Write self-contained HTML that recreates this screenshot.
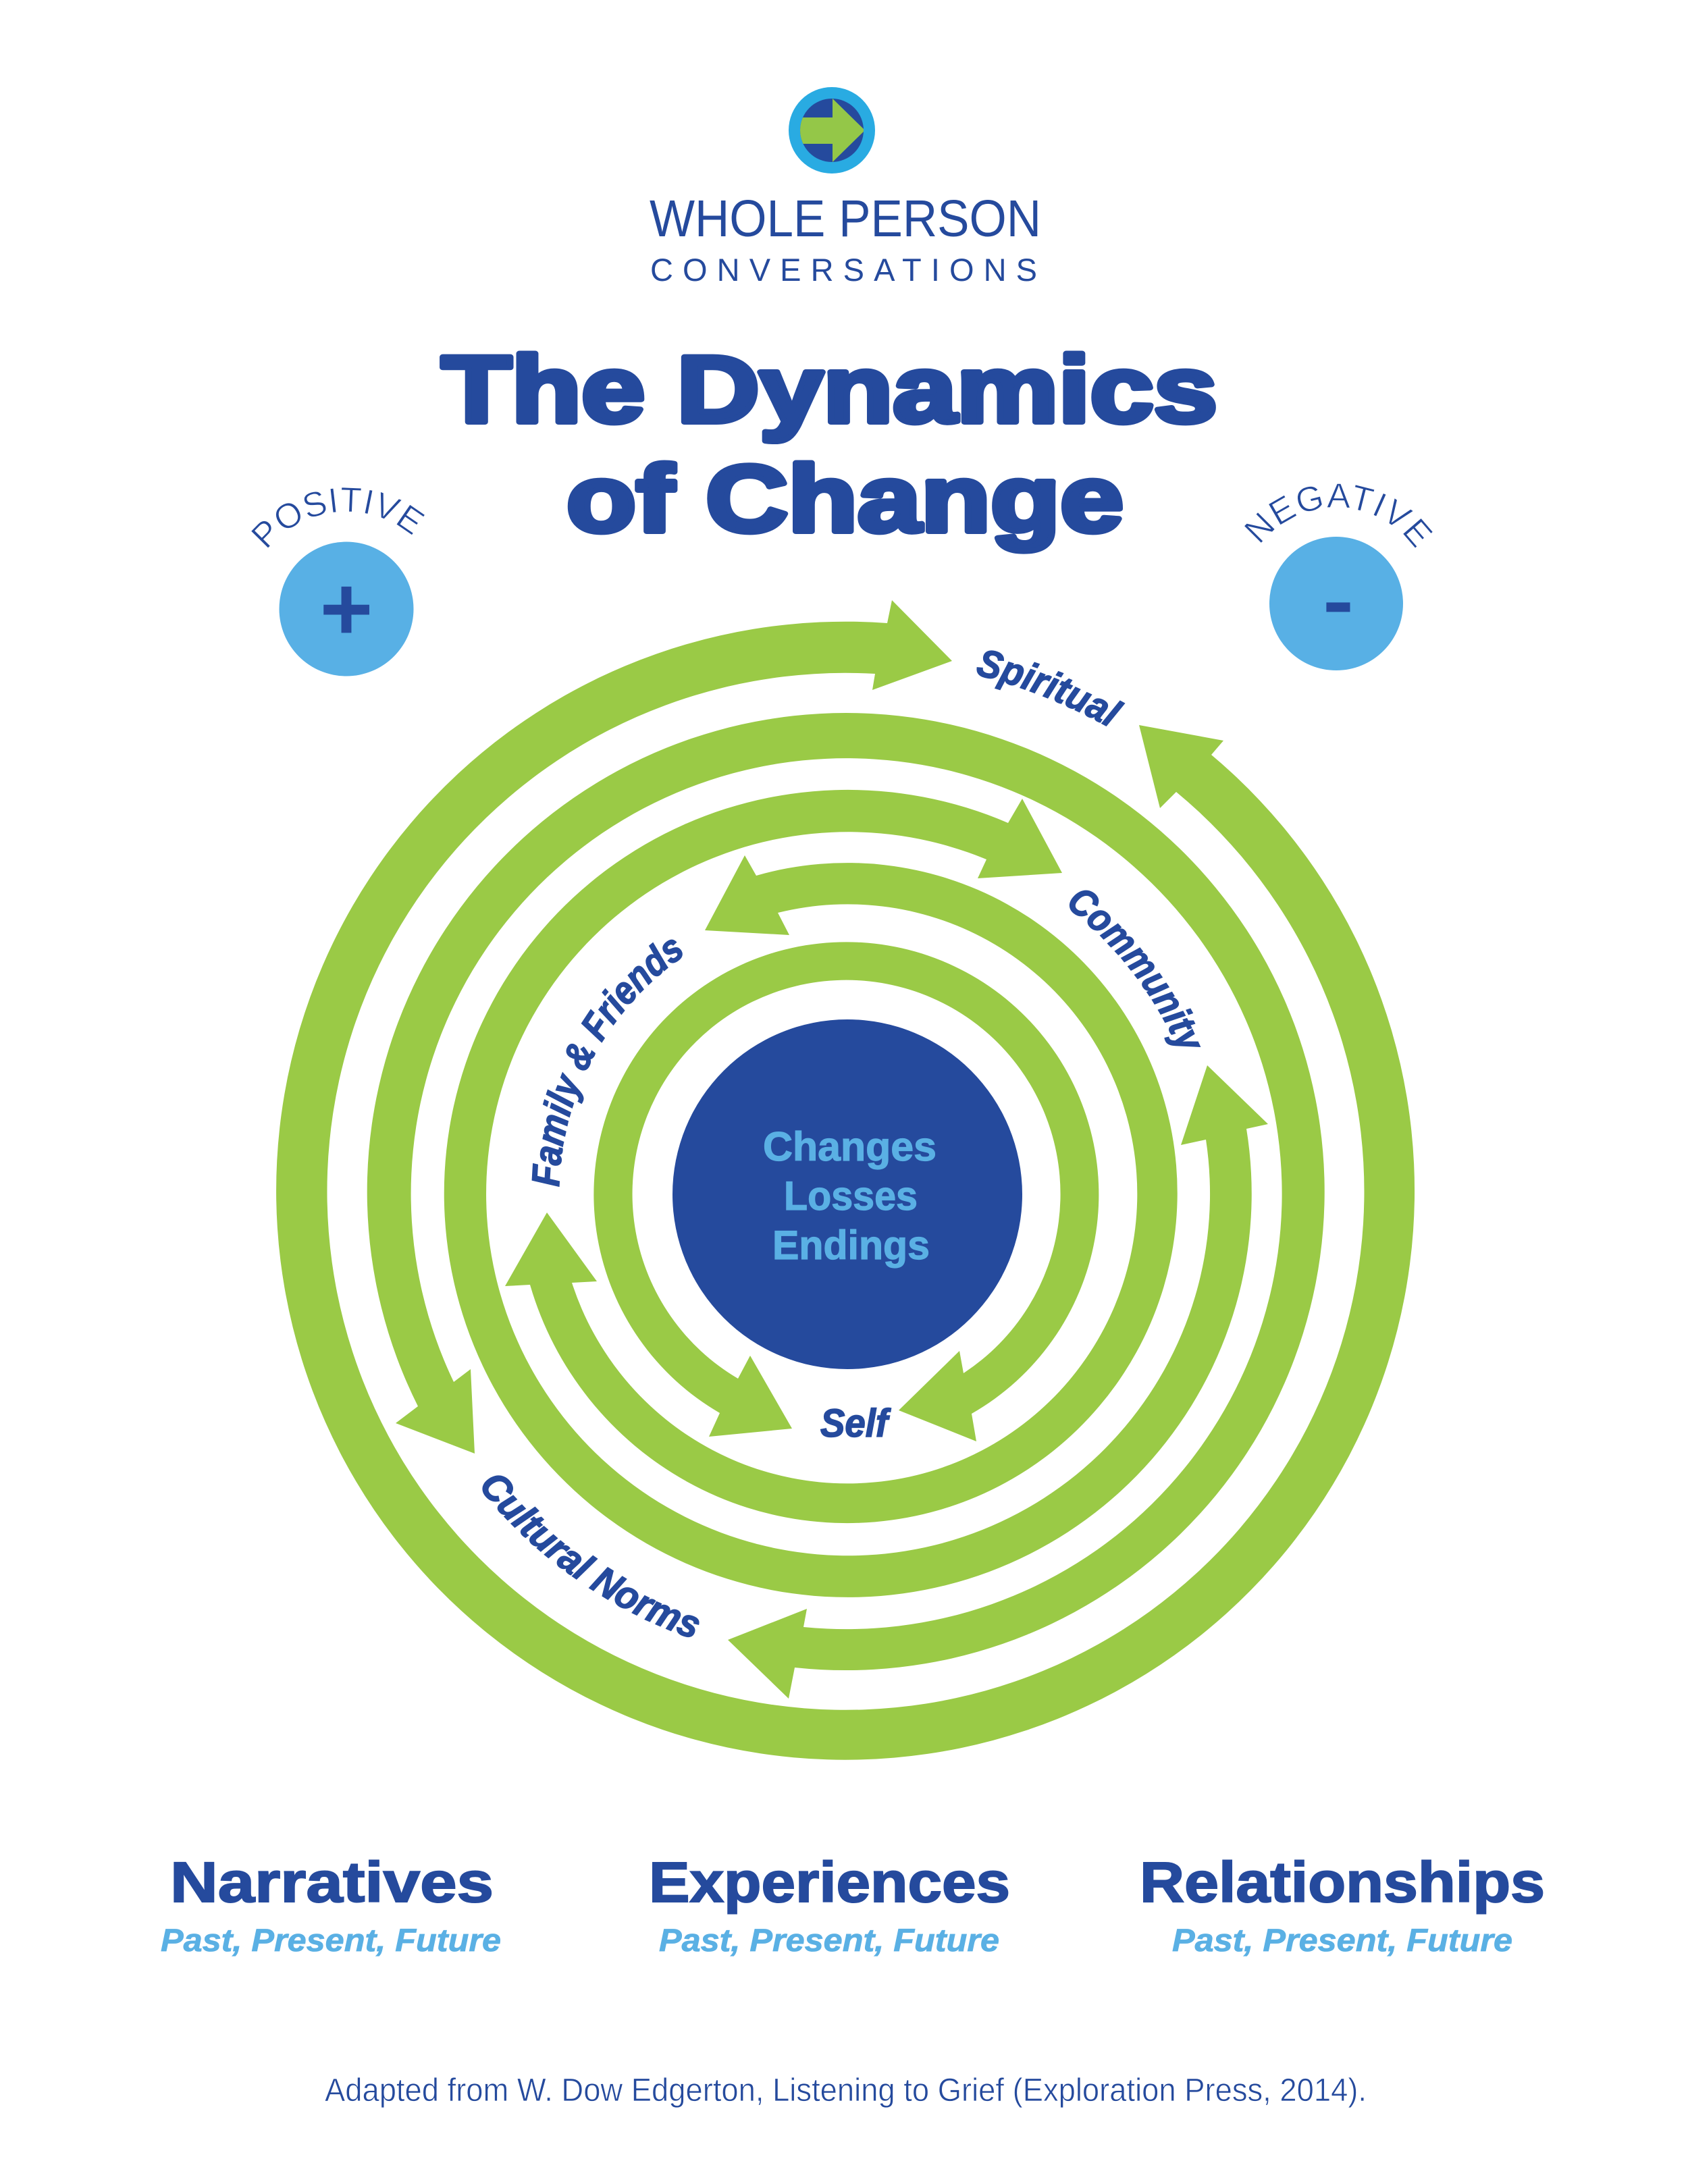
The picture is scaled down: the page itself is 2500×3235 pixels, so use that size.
<!DOCTYPE html>
<html lang="en"><head><meta charset="utf-8"><title>The Dynamics of Change</title>
<style>
html,body{margin:0;padding:0;background:#fff}
svg{display:block}
text{font-family:"Liberation Sans",sans-serif;fill:#254a9d}
.t{font-weight:bold;font-size:140px;stroke:#254a9d;stroke-width:8px;stroke-linejoin:round}
.c{font-weight:bold;font-style:italic;font-size:58px;stroke:#254a9d;stroke-width:1.6px}
.m{font-weight:bold;font-size:60px;fill:#5ab0e4;stroke:#5ab0e4;stroke-width:1.2px}
.h{font-weight:bold;font-size:84px;stroke:#254a9d;stroke-width:2px}
.s{font-weight:bold;font-style:italic;font-size:47px;fill:#5ab0e4;stroke:#5ab0e4;stroke-width:.8px}
.l{font-size:52px;stroke:#fff;stroke-width:.9px}
</style></head>
<body>
<svg width="2500" height="3235" viewBox="0 0 2500 3235" xmlns="http://www.w3.org/2000/svg">
<defs>
<clipPath id="lc"><circle cx="1232" cy="193" r="47"/></clipPath>
<path id="pPos" d="M363 908 A150 150 0 0 1 663 908"/>
<path id="pNeg" d="M1837 894 A142 142 0 0 1 2121 894"/>
<path id="pSp" d="M1444 999 A792 792 0 0 1 1941 1372"/>
<path id="pCo" d="M1577 1341 A535 535 0 0 1 1790 1768"/>
<path id="pFa" d="M828 1758 A428 428 0 0 1 1255 1340"/>
<path id="pCu" d="M708 2201 A698 698 0 0 0 1255 2466"/>
</defs>
<rect width="2500" height="3235" fill="#fff"/>

<circle cx="1232" cy="193" r="64" fill="#29abe2"/>
<circle cx="1232" cy="193" r="47" fill="#254a9d"/>
<polygon clip-path="url(#lc)" points="1180,174 1233,174 1233,146 1281,193 1233,240 1233,213 1180,213" fill="#94c748"/>
<text x="962" y="350" font-size="77" textLength="580" lengthAdjust="spacingAndGlyphs">WHOLE PERSON</text>
<text x="963" y="416" font-size="47" textLength="573" lengthAdjust="spacing">CONVERSATIONS</text>

<text class="t" x="654" y="625" textLength="1149" lengthAdjust="spacingAndGlyphs">The Dynamics</text>
<text class="t" x="839" y="787" textLength="825" lengthAdjust="spacingAndGlyphs">of Change</text>

<circle cx="513" cy="902" r="99.5" fill="#58b0e5"/>
<circle cx="1979" cy="894" r="99" fill="#58b0e5"/>
<text x="513" y="948" font-size="135" font-weight="bold" text-anchor="middle">+</text>
<text x="1982" y="930" font-size="118" font-weight="bold" text-anchor="middle" textLength="46" lengthAdjust="spacingAndGlyphs">-</text>
<text class="l" letter-spacing="0.5"><textPath href="#pPos" startOffset="47%" text-anchor="middle">POSITIVE</textPath></text>
<text class="l" letter-spacing="1.5"><textPath href="#pNeg" startOffset="51%" text-anchor="middle">NEGATIVE</textPath></text>

<g fill="#9aca46">
<path d="M1410 979 L1321 889 L1314 923 A843 843 0 1 0 1794 1118 L1812 1097 L1687 1074 L1718 1197 L1742 1173 A768 768 0 1 1 1296 998 L1292 1022 Z"/>
<path d="M703 2153 L586 2108 L619 2083 A709 709 0 1 1 1177 2470 L1168 2516 L1078 2429 L1195 2383 L1190 2410 A645 645 0 1 0 672 2047 L697 2028 Z"/>
<path d="M1573 1293 L1514 1183 L1493 1219 A598 598 0 1 0 1846 1672 L1878 1665 L1788 1578 L1749 1696 L1786 1688 A536 536 0 1 1 1461 1273 L1448 1301 Z"/>
<path d="M1044 1378 L1103 1267 L1120 1297 A489 489 0 1 1 785 1903 L748 1905 L810 1796 L884 1898 L847 1900 A429 429 0 1 0 1152 1352 L1169 1385 Z"/>
<path d="M1173 2116 L1050 2128 L1066 2093 A374 374 0 1 1 1439 2094 L1446 2135 L1331 2089 L1421 2001 L1427 2034 A317 317 0 1 0 1093 2042 L1111 2008 Z"/>
</g>

<circle cx="1255" cy="1769" r="259" fill="#254a9d"/>
<text class="m" x="1130" y="1719" textLength="257" lengthAdjust="spacingAndGlyphs">Changes</text>
<text class="m" x="1161" y="1792" textLength="198" lengthAdjust="spacingAndGlyphs">Losses</text>
<text class="m" x="1144" y="1865" textLength="233" lengthAdjust="spacingAndGlyphs">Endings</text>

<text class="c"><textPath href="#pSp" textLength="216" lengthAdjust="spacingAndGlyphs">Spiritual</textPath></text>
<text class="c"><textPath href="#pCo" textLength="282" lengthAdjust="spacingAndGlyphs">Community</textPath></text>
<text class="c"><textPath href="#pFa" textLength="408" lengthAdjust="spacingAndGlyphs">Family &amp; Friends</textPath></text>
<text class="c"><textPath href="#pCu" textLength="398" lengthAdjust="spacingAndGlyphs">Cultural Norms</textPath></text>
<text class="c" x="1215" y="2128" textLength="100" lengthAdjust="spacingAndGlyphs">Self</text>

<text class="h" x="252" y="2817" textLength="479" lengthAdjust="spacingAndGlyphs">Narratives</text>
<text class="h" x="961" y="2817" textLength="535" lengthAdjust="spacingAndGlyphs">Experiences</text>
<text class="h" x="1688" y="2817" textLength="600" lengthAdjust="spacingAndGlyphs">Relationships</text>
<text class="s" x="238" y="2890" textLength="504" lengthAdjust="spacingAndGlyphs">Past, Present, Future</text>
<text class="s" x="976" y="2890" textLength="504" lengthAdjust="spacingAndGlyphs">Past, Present, Future</text>
<text class="s" x="1736" y="2890" textLength="504" lengthAdjust="spacingAndGlyphs">Past, Present, Future</text>
<text x="481" y="3112" font-size="48" textLength="1543" lengthAdjust="spacingAndGlyphs" stroke="#fff" stroke-width=".7">Adapted from W. Dow Edgerton, Listening to Grief (Exploration Press, 2014).</text>
</svg>
</body></html>
